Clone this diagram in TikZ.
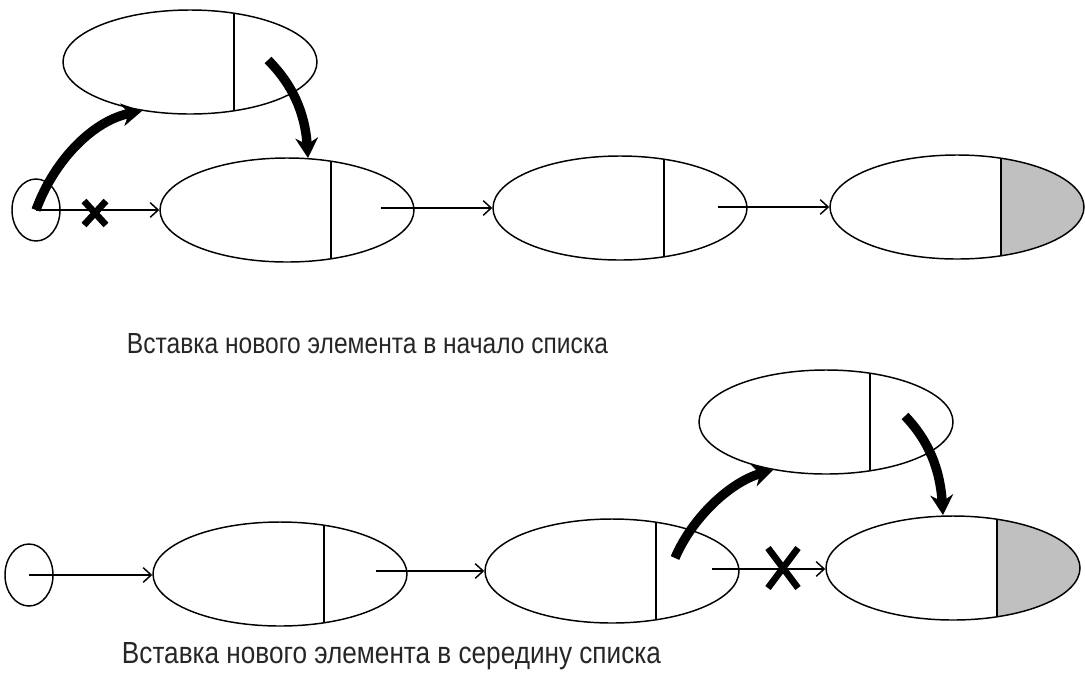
\documentclass[tikz,border=0pt]{standalone}
\usepackage{fontspec}
\setmainfont{Liberation Sans}
\usetikzlibrary{shapes.geometric,arrows.meta,calc}
\definecolor{cellgray}{RGB}{192,192,192}
\begin{document}
\begin{tikzpicture}[x=0.75pt,y=-0.75pt,
  cell/.style={draw, ellipse, line width=1.1pt, minimum width=190.5pt, minimum height=78pt, inner sep=0pt,
    path picture={\draw[line width=1.1pt] ([xshift=33pt]path picture bounding box.north) -- ([xshift=33pt]path picture bounding box.south);}},
  lastcell/.style={draw, ellipse, line width=1.1pt, minimum width=190.5pt, minimum height=78pt, inner sep=0pt,
    path picture={\fill[cellgray] ([xshift=33pt]path picture bounding box.south) rectangle (path picture bounding box.north east);
      \draw[line width=1.1pt] ([xshift=33pt]path picture bounding box.north) -- ([xshift=33pt]path picture bounding box.south);}},
  headcell/.style={draw, ellipse, line width=1.1pt, minimum width=36pt, minimum height=46.5pt, inner sep=0pt},
  ptr/.style={line width=1.1pt, -{Straight Barb[length=6pt,width=11pt]}},
  move/.style={line width=7pt, -{Stealth[length=15pt,width=17pt]}},
  crossmark/.style={line width=5pt},
  caption/.style={anchor=base, inner sep=0pt, text=black!85}
]
\useasboundingbox (0,0) rectangle (1085,676);

% ---------- top: insertion at the beginning ----------
\node[headcell] (h1) at (36,210) {};
\node[cell] (t1) at (287,210) {};
\node[cell] (t2) at (620,208) {};
\node[lastcell] (t3) at (957,207) {};
\node[cell] (tn) at (190,62) {};

\draw[ptr] (h1.center) -- (t1.west);
\coordinate (p1) at ($(t1.center)+(94,-2)$);
\draw[ptr] (p1) -- (p1 -| t2.west);
\coordinate (p2) at ($(t2.center)+(98,-1)$);
\draw[ptr] (p2) -- (p2 -| t3.west);

\coordinate (x1) at (95,213);
\draw[crossmark] ($(x1)+(-11,-12)$) -- ($(x1)+(11,12)$) ($(x1)+(-11,12)$) -- ($(x1)+(11,-12)$);

\coordinate (a1e) at (142,111);
\coordinate (a2s) at (268,60);
\coordinate (a2e) at (308,158);
\draw[move] (h1.center) .. controls (55,158) and (95,120) .. (a1e);
\draw[move] (a2s) .. controls (292,84) and (305,112) .. (a2e);

\node[caption] (cap1) at (367.5,353) {\resizebox{360.75pt}{15pt}{Вставка нового элемента в начало списка}};

% ---------- bottom: insertion in the middle ----------
\node[headcell] (h2) at (29,575) {};
\node[cell] (b1) at (280,574) {};
\node[cell] (b2) at (612,571) {};
\node[lastcell] (b3) at (953,568) {};
\node[cell] (bn) at (826,422) {};

\draw[ptr] (h2.center) -- (h2.center -| b1.west);
\coordinate (q1) at ($(b1.center)+(96,-3)$);
\draw[ptr] (q1) -- (q1 -| b2.west);
\coordinate (q2) at ($(b2.center)+(100,-2)$);
\draw[ptr] (q2) -- (q2 -| b3.west);

\coordinate (x2) at (783,568);
\draw[crossmark] ($(x2)+(-15,-20)$) -- ($(x2)+(15,20)$) ($(x2)+(-15,20)$) -- ($(x2)+(15,-20)$);

\coordinate (a3s) at (675,558);
\coordinate (a3e) at (773,470);
\coordinate (a4s) at (905,416);
\coordinate (a4e) at (943,515);
\draw[move] (a3s) .. controls (692,518) and (730,482) .. (a3e);
\draw[move] (a4s) .. controls (928,440) and (940,468) .. (a4e);

\node[caption] (cap2) at (391.5,663) {\resizebox{404.25pt}{15.75pt}{Вставка нового элемента в середину списка}};
\end{tikzpicture}
\end{document}
